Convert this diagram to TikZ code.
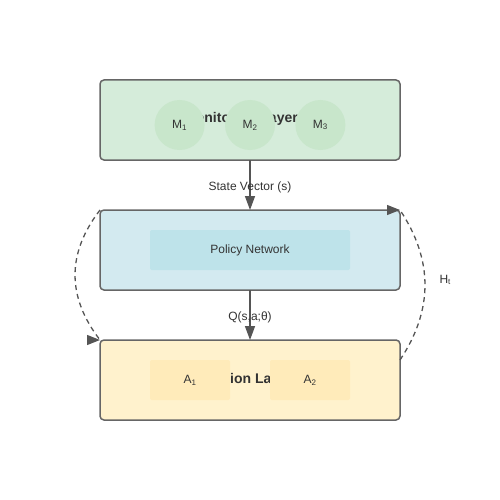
\documentclass[tikz,border=0pt]{standalone}
\usepackage{fontspec}
\setmainfont{Liberation Sans}
\usetikzlibrary{positioning, arrows.meta, calc}
\definecolor{edgegray}{HTML}{666666}
\definecolor{arrowgray}{HTML}{555555}
\definecolor{txtgray}{HTML}{333333}
\definecolor{mongreen}{HTML}{D5ECDA}
\definecolor{moncirc}{HTML}{C8E6CB}
\definecolor{polblue}{HTML}{D3EAF0}
\definecolor{polinner}{HTML}{BEE3EA}
\definecolor{actyellow}{HTML}{FFF2CD}
\definecolor{actinner}{HTML}{FFEBBA}

\begin{document}
\begin{tikzpicture}[x=1pt, y=-1pt,
    layer/.style={draw=edgegray, line width=1.5pt, rounded corners=4pt,
                  minimum width=300pt, minimum height=80pt, inner sep=0pt, outer sep=0pt,
                  font=\bfseries\fontsize{14}{16}\selectfont, text=txtgray},
    flow/.style={-{Triangle[length=14pt,width=10pt]}, draw=arrowgray, line width=1.5pt},
    loopback/.style={-{Triangle[length=13pt,width=10pt]}, draw=arrowgray,
                     dash pattern=on 5pt off 4pt, line width=1.3pt},
    lbl/.style={font=\fontsize{12}{14}\selectfont, text=txtgray}]
\useasboundingbox (0,0) rectangle (500,500);

% the three layers, 50pt apart
\node [layer, fill=mongreen]                      (mon) at (250,120) {};
\node [layer, fill=polblue, below=50pt of mon]    (pol) {};
\node [layer, fill=actyellow, below=50pt of pol]  (act) {Action Layer};
\node [font=\bfseries\fontsize{14}{16}\selectfont, text=txtgray] (mtitle) at ($(mon)+(-9,-1.5)$) {Monitoring Layer};

\begin{scope}[every node/.style={lbl, inner sep=0pt}]
	\node [circle, fill=moncirc, minimum size=50pt] (m2) at ($(mon)+(0,5)$) {M\textsubscript{2}};
	\node [circle, fill=moncirc, minimum size=50pt, left=20pt of m2]  (m1) {M\textsubscript{1}};
	\node [circle, fill=moncirc, minimum size=50pt, right=20pt of m2] (m3) {M\textsubscript{3}};
	\node [rounded corners=2pt, fill=polinner, minimum width=200pt, minimum height=40pt] (net) at (pol) {Policy Network};
	\node [rounded corners=2pt, fill=actinner, minimum width=80pt, minimum height=40pt] (a1) at ($(act)+(-60,0)$) {A\textsubscript{1}};
	\node [rounded corners=2pt, fill=actinner, minimum width=80pt, minimum height=40pt] (a2) at ($(act)+(60,0)$) {A\textsubscript{2}};
\end{scope}

\draw [flow] (mon.south) -- (pol.north) node [lbl, midway, yshift=-2pt] (sv) {State Vector (s)};
\draw [flow] (pol.south) -- (act.north) node [lbl, midway, yshift=-2pt] (qv) {Q(s,a;θ)};

\draw [loopback] (pol.north west) .. controls (66.7,253.3) and (66.7,296.7)
      .. ([xshift=-0.01pt]act.north west) -- (act.north west);
\draw [loopback] ($(act.north east)+(0,20)$) .. controls (433.3,310) and (433.3,260)
      .. ([xshift=-0.01pt]pol.north east) -- (pol.north east);
\node [lbl, anchor=west] (hl) at (436,280) {H\textsubscript{t}};

\end{tikzpicture}
\end{document}
